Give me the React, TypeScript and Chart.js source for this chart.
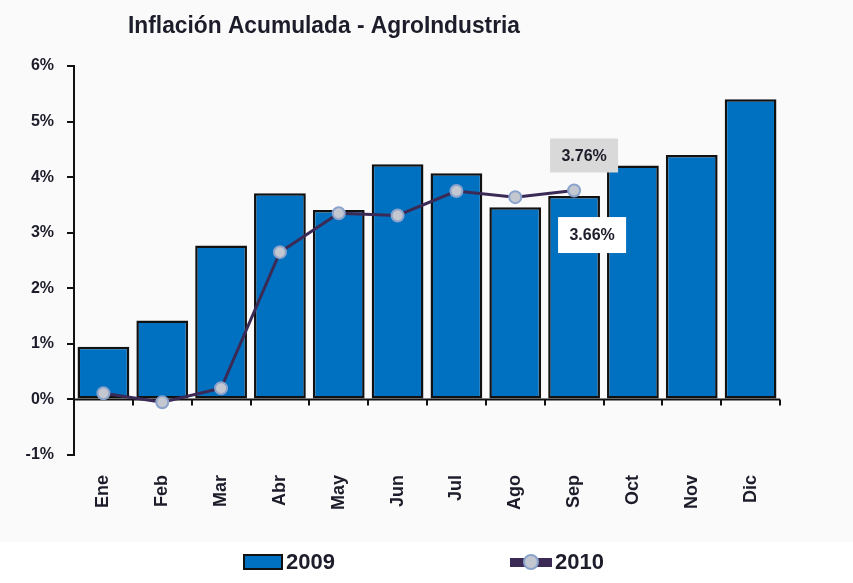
import React, { useEffect, useRef } from "react";
import { Chart, registerables } from "chart.js";

Chart.register(...registerables);

const titleText = "Inflación Acumulada - AgroIndustria";
const months = ["Ene", "Feb", "Mar", "Abr", "May", "Jun", "Jul", "Ago", "Sep", "Oct", "Nov", "Dic"];
const seriesNames = ["2009", "2010"];
const values2009 = [0.95, 1.42, 2.77, 3.71, 3.41, 4.23, 4.07, 3.46, 3.66, 4.21, 4.4, 5.4];
const values2010 = [0.11, -0.05, 0.2, 2.65, 3.35, 3.31, 3.75, 3.64, 3.76];
const yMin = -1;
const yMax = 6;
const calloutIndex = 8;

const BAR = "#0070C0";
const LINE = "#3a2a55";
const PT_FILL = "#c3c7cf";
const PT_BORDER = "#8aa3cc";
const TXT = "#1c1c2a";
const FONT = "'Liberation Sans', Arial, sans-serif";

const decor = {
  id: "decor",
  beforeDraw(chart: any) {
    const { ctx, width, height } = chart;
    ctx.save();
    ctx.fillStyle = "#ffffff";
    ctx.fillRect(0, 0, width, height);
    ctx.fillStyle = "#fafafa";
    ctx.fillRect(0, 0, width, 542);
    ctx.restore();
  },
  beforeDatasetsDraw(chart: any) {
    const { ctx, chartArea, scales } = chart;
    const y0 = scales.y.getPixelForValue(0);
    ctx.save();
    ctx.strokeStyle = "#111";
    ctx.lineWidth = 2;
    ctx.beginPath();
    ctx.moveTo(chartArea.left, y0);
    ctx.lineTo(chartArea.right, y0);
    const step = (chartArea.right - chartArea.left) / months.length;
    for (let i = 1; i <= months.length; i++) {
      const px = Math.round(chartArea.left + step * i);
      ctx.moveTo(px, y0);
      ctx.lineTo(px, y0 + 6);
    }
    ctx.stroke();
    ctx.restore();
  },
  afterDatasetsDraw(chart: any) {
    const { ctx } = chart;
    const lineMeta = chart.getDatasetMeta(1);
    const barMeta = chart.getDatasetMeta(0);
    const p = lineMeta.data[calloutIndex];
    const b = barMeta.data[calloutIndex];
    ctx.save();
    ctx.font = `bold 16px ${FONT}`;
    ctx.textAlign = "center";
    ctx.textBaseline = "middle";
    const t1 = values2010[calloutIndex].toFixed(2) + "%";
    const c1x = p.x + 10, c1y = p.y - 35;
    ctx.fillStyle = "#d9d9d9";
    ctx.fillRect(c1x - 34, c1y - 17, 68, 34);
    ctx.fillStyle = TXT;
    ctx.fillText(t1, c1x, c1y + 1);
    const t2 = values2009[calloutIndex].toFixed(2) + "%";
    const c2x = b.x + 18, c2y = b.y + 39;
    ctx.fillStyle = "#ffffff";
    ctx.fillRect(c2x - 34, c2y - 18, 68, 36);
    ctx.fillStyle = TXT;
    ctx.fillText(t2, c2x, c2y + 1);
    ctx.restore();
  },
  afterDraw(chart: any) {
    const { ctx } = chart;
    ctx.save();
    ctx.font = `bold 20px ${FONT}`;
    ctx.fillStyle = TXT;
    ctx.textBaseline = "alphabetic";
    ctx.textAlign = "left";
    const w = ctx.measureText(titleText).width;
    ctx.translate(128, 33);
    ctx.scale(392 / w, 1.15);
    ctx.fillText(titleText, 0, 0);
    ctx.restore();

    ctx.save();
    ctx.fillStyle = BAR;
    ctx.strokeStyle = "#111";
    ctx.lineWidth = 2;
    ctx.fillRect(244, 555, 38, 14);
    ctx.strokeRect(244, 555, 38, 14);
    ctx.font = `bold 22px ${FONT}`;
    ctx.fillStyle = TXT;
    ctx.textBaseline = "middle";
    ctx.fillText(seriesNames[0], 286, 563);
    ctx.fillStyle = LINE;
    ctx.fillRect(510, 558, 42, 9);
    ctx.beginPath();
    ctx.arc(531, 562, 7, 0, Math.PI * 2);
    ctx.fillStyle = PT_FILL;
    ctx.fill();
    ctx.strokeStyle = PT_BORDER;
    ctx.lineWidth = 2;
    ctx.stroke();
    ctx.fillStyle = TXT;
    ctx.fillText(seriesNames[1], 555, 563);
    ctx.restore();
  },
};

export default function App() {
  const ref = useRef<HTMLCanvasElement>(null);
  useEffect(() => {
    if (!ref.current) return;
    const chart = new Chart(ref.current, {
      type: "bar",
      data: {
        labels: months,
        datasets: [
          {
            type: "bar",
            label: seriesNames[0],
            data: values2009,
            backgroundColor: BAR,
            borderColor: "#111",
            borderWidth: 2.5,
            borderSkipped: false,
            barPercentage: 0.88,
            categoryPercentage: 1,
            order: 2,
          } as any,
          {
            type: "line",
            label: seriesNames[1],
            data: values2010,
            borderColor: LINE,
            borderWidth: 3,
            pointRadius: 6,
            pointBackgroundColor: PT_FILL,
            pointBorderColor: PT_BORDER,
            pointBorderWidth: 2,
            tension: 0,
            order: 1,
          } as any,
        ],
      },
      options: {
        responsive: false,
        animation: false,
        devicePixelRatio: 1,
        layout: { padding: { top: 66, right: 73, bottom: 0, left: 0 } },
        plugins: {
          legend: { display: false },
          tooltip: { enabled: false },
          title: { display: false },
        },
        scales: {
          x: {
            grid: { display: false, drawTicks: false },
            border: { display: false },
            ticks: {
              autoSkip: false,
              minRotation: 90,
              maxRotation: 90,
              padding: 20,
              color: TXT,
              font: { family: FONT, size: 18, weight: "bold" },
            },
            afterFit(scale: any) {
              scale.height = 128;
            },
          },
          y: {
            min: yMin,
            max: yMax,
            ticks: {
              stepSize: 1,
              padding: 13,
              color: TXT,
              font: { family: FONT, size: 16, weight: "bold" },
              callback: (v: any) => v + "%",
            },
            grid: {
              drawOnChartArea: false,
              drawTicks: true,
              tickLength: 7,
              color: "#111",
              lineWidth: 2,
            },
            border: { display: true, color: "#111", width: 2 },
            afterFit(scale: any) {
              scale.width = 74;
            },
          },
        },
      },
      plugins: [decor],
    });
    return () => chart.destroy();
  }, []);
  return (
    <div style={{ position: "fixed", left: 0, top: 0, width: 853, height: 583 }}>
      <canvas ref={ref} width={853} height={583} style={{ display: "block" }} />
    </div>
  );
}
